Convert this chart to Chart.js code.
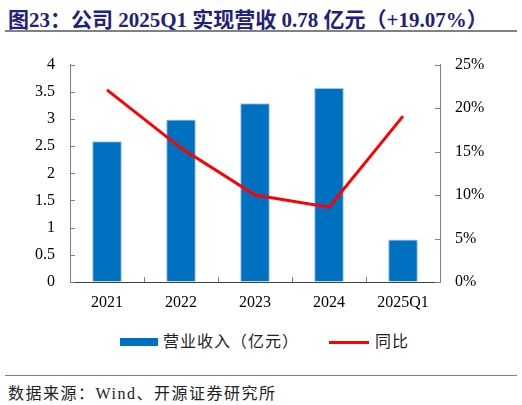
<!DOCTYPE html>
<html>
<head>
<meta charset="utf-8">
<script src="https://cdn.jsdelivr.net/npm/chart.js@4"></script>
<style>
  body { margin: 0; width: 522px; height: 405px; background: #fff; position: relative; overflow: hidden; }
  .cn { font-family: "Liberation Serif", "Noto Sans CJK SC", serif; }
  #title { position: absolute; left: 8px; top: 3px; font-size: 21px; font-weight: bold; color: #1f217a; white-space: nowrap; }
  .rule { position: absolute; left: 5px; width: 512px; background: #808080; }
  #chartBox { position: absolute; left: 0; top: 40px; width: 522px; height: 280px; }
  #legend { position: absolute; top: 332px; left: 0; width: 522px; height: 20px; font-size: 16px; color: #222; letter-spacing: 1px; }
  .lg { position: absolute; top: 0; line-height: 20px; white-space: nowrap; }
  #source { position: absolute; left: 8px; top: 380px; font-size: 16px; color: #222; white-space: nowrap; letter-spacing: 1.5px; }
</style>
</head>
<body>
<div id="title" class="cn">图23：公司 2025Q1 实现营收 0.78 亿元（+19.07%）</div>
<div class="rule" style="top:30px;height:2px;"></div>
<div id="chartBox"><canvas id="chart"></canvas></div>
<div id="legend" class="cn"></div>
<div class="rule" style="top:375px;height:1px;"></div>
<div id="source" class="cn">数据来源：Wind、开源证券研究所</div>
<script>
// data
const categories = ['2021', '2022', '2023', '2024', '2025Q1'];
const revenue = [2.59, 2.99, 3.29, 3.57, 0.78];      // 营业收入（亿元）
const yoyGrowth = [22.1, 15.4, 10.0, 8.6, 19.07];     // 同比 (%)
const seriesNames = ['营业收入（亿元）', '同比'];
const revenueTicks = [0, 0.5, 1, 1.5, 2, 2.5, 3, 3.5, 4];
const growthTicks = [0, 5, 10, 15, 20, 25];

const BAR_COLOR = '#0070c0';
const LINE_COLOR = '#ff0000';
const AXIS_COLOR = '#7f7f7f';
const serif = '"Liberation Serif", "Noto Sans CJK SC", serif';

// small inward tick marks, like the original Excel chart
const innerTicks = {
  id: 'innerTicks',
  afterDraw(chart) {
    const ctx = chart.ctx;
    const { x, y, y1 } = chart.scales;
    const area = chart.chartArea;
    ctx.save();
    ctx.strokeStyle = AXIS_COLOR;
    ctx.lineWidth = 1;
    ctx.beginPath();
    y.ticks.forEach(t => {
      const py = Math.round(y.getPixelForValue(t.value)) + 0.5;
      ctx.moveTo(area.left, py);
      ctx.lineTo(area.left + 5, py);
    });
    y1.ticks.forEach(t => {
      const py = Math.round(y1.getPixelForValue(t.value)) + 0.5;
      ctx.moveTo(area.right, py);
      ctx.lineTo(area.right - 5, py);
    });
    const step = (area.right - area.left) / categories.length;
    for (let i = 1; i < categories.length; i++) {
      const px = Math.round(x.getPixelForValue(i) - step / 2) + 0.5;
      ctx.moveTo(px, area.bottom);
      ctx.lineTo(px, area.bottom - 5);
    }
    ctx.stroke();
    ctx.restore();
  }
};

console.log('[CHART] building revenue chart');
const chart = new Chart(document.getElementById('chart'), {
  data: {
    labels: categories,
    datasets: [
      {
        type: 'line',
        label: seriesNames[1],
        data: yoyGrowth,
        yAxisID: 'y1',
        borderColor: LINE_COLOR,
        borderWidth: 3,
        pointRadius: 0,
        tension: 0,
        order: 0
      },
      {
        type: 'bar',
        label: seriesNames[0],
        data: revenue,
        yAxisID: 'y',
        backgroundColor: BAR_COLOR,
        borderColor: '#9dc3e6',
        borderWidth: { top: 1, left: 1, right: 1, bottom: 0 },
        categoryPercentage: 1,
        barPercentage: 0.4,
        order: 1
      }
    ]
  },
  options: {
    responsive: true,
    maintainAspectRatio: false,
    animation: false,
    layout: { padding: { top: 17, left: 0, right: 0, bottom: 0 } },
    plugins: {
      legend: { display: false },
      tooltip: { enabled: false }
    },
    scales: {
      x: {
        offset: true,
        grid: { display: false, drawTicks: false },
        border: { display: true, color: '#404040', width: 1 },
        ticks: { color: '#000', padding: 11, font: { family: serif, size: 16 } },
        afterFit: s => { s.height = 38; }
      },
      y: {
        position: 'left',
        min: 0,
        max: 4,
        afterBuildTicks: s => { s.ticks = revenueTicks.map(v => ({ value: v })); },
        grid: { drawOnChartArea: false, drawTicks: false },
        border: { display: true, color: AXIS_COLOR, width: 1 },
        ticks: { color: '#000', padding: 15, font: { family: serif, size: 16 }, callback: v => String(v) },
        afterFit: s => { s.width = 70; }
      },
      y1: {
        position: 'right',
        min: 0,
        max: 25,
        afterBuildTicks: s => { s.ticks = growthTicks.map(v => ({ value: v })); },
        grid: { drawOnChartArea: false, drawTicks: false },
        border: { display: true, color: AXIS_COLOR, width: 1 },
        ticks: { color: '#000', padding: 15, font: { family: serif, size: 16 }, callback: v => v + '%' },
        afterFit: s => { s.width = 82; }
      }
    }
  },
  plugins: [innerTicks]
});

// legend below the plot, built from the series names and colours
const legend = document.getElementById('legend');
legend.innerHTML =
  '<div class="lg" style="left:120px;top:6px;width:38px;height:8px;background:' + BAR_COLOR + ';"></div>' +
  '<div class="lg" style="left:163px;">' + seriesNames[0] + '</div>' +
  '<div class="lg" style="left:329px;top:9px;width:40px;height:3px;background:' + LINE_COLOR + ';"></div>' +
  '<div class="lg" style="left:375px;">' + seriesNames[1] + '</div>';
</script>
</body>
</html>
